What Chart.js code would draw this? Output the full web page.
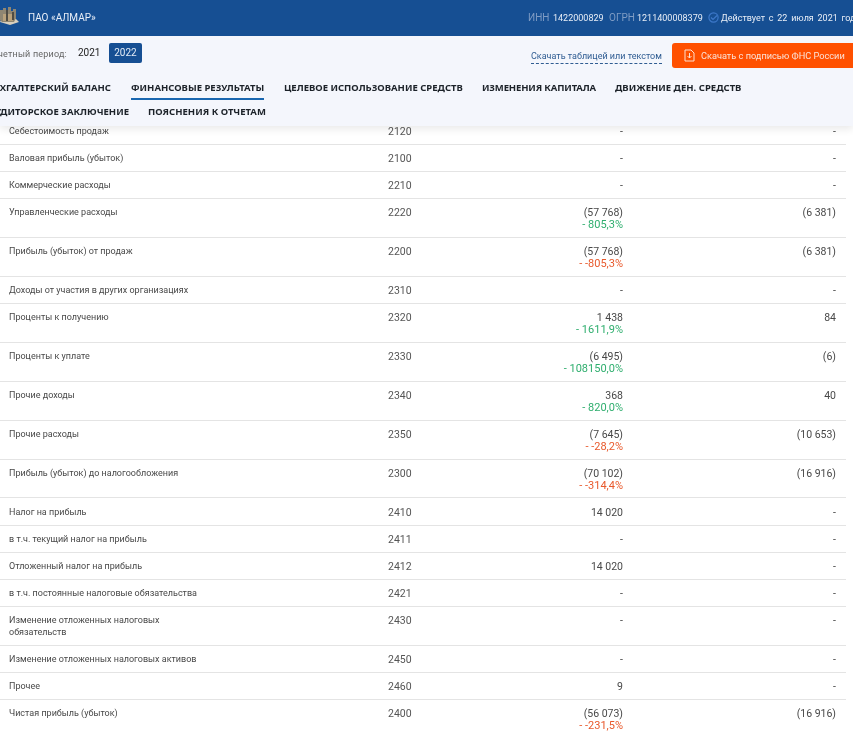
<!DOCTYPE html>
<html lang="ru">
<head>
<meta charset="utf-8">
<title>ПАО «АЛМАР»</title>
<script src="https://cdn.jsdelivr.net/npm/chart.js@4"></script>
<style>
    html, body { margin: 0; padding: 0; width: 853px; height: 734px; overflow: hidden; background: #fff; }
    body { position: relative; font-family: Roboto, sans-serif; }
    #top { position: absolute; left: 0; top: 0; width: 853px; height: 36px; background: #164f93; z-index: 3; }
    #sub { position: absolute; left: 0; top: 36px; width: 853px; height: 90px; background: #f4f6fc; z-index: 2; box-shadow: 0 3px 8px rgba(0,0,0,.09); }
    .t { position: absolute; white-space: nowrap; line-height: 14px; font-size: 10px; }
    #table { position: absolute; left: 0; top: 117px; z-index: 1; }
    .tab { font-family: "Noto Sans", sans-serif; font-weight: 700; font-size: 9.5px; color: #1c2229; }
</style>
</head>
<body>
<div id="top">
    <svg style="position:absolute;left:0;top:7px" width="20" height="19"><path d="M0 15l10 3 9-3-4-4H2z" fill="#d8cfbd"/><path d="M0 3h3V1h3v3h2V0h3v4h2V2h3v9l-2 4H2l-2-2z" fill="#8f8672"/><path d="M3 7h10v7H3z" fill="#b9a27c"/><path d="M6 3h2v11H6zM12 5h2v8h-2z" fill="#4f4c44"/></svg>
    <span class="t" style="left:28px;top:11px;color:#e8eef7">ПАО «АЛМАР»</span>
    <span class="t" style="left:528px;top:11px;color:#7f9cc4">ИНН</span>
    <span class="t" style="left:553px;top:11px;color:#e8eef7;font-size:9px;">1422000829</span>
    <span class="t" style="left:609px;top:11px;color:#7f9cc4">ОГРН</span>
    <span class="t" style="left:637px;top:11px;color:#e8eef7;font-size:9px;">1211400008379</span>
    <svg style="position:absolute;left:708px;top:12px" width="11" height="11"><circle cx="5.5" cy="5.5" r="4.6" fill="none" stroke="#3d78c9" stroke-width="1.2"/><path d="M3 5.5l2 2 4-4" fill="none" stroke="#3d78c9" stroke-width="1.2"/></svg>
    <span class="t" style="left:721px;top:11px;color:#e8eef7;font-size:9px;word-spacing:1.5px">Действует с 22 июля 2021 года</span>
</div>
<div id="sub">
    <span class="t" style="right:786px;top:11px;font-size:9px;color:#666;letter-spacing:.2px">Отчетный период:</span>
    <span class="t" style="left:78px;top:10px;color:#222">2021</span>
    <span class="t" style="left:109px;top:7px;width:33px;height:20px;line-height:20px;text-align:center;color:#e4ecf6;background:#164f93;border-radius:2px">2022</span>
    <span class="t" style="left:531px;top:13px;font-size:9px;color:#2f5c92;border-bottom:1px dashed #2f5c92">Скачать таблицей или текстом</span>
    <span class="t" style="left:672px;top:7px;width:190px;height:25px;background:#ff5000;border-radius:3px"></span>
    <svg style="position:absolute;left:684px;top:13px" width="11" height="13"><path d="M1 1h6l3 3v8H1z" fill="none" stroke="#fde0d0" stroke-width="1"/><path d="M5.5 4v5M3.5 7l2 2 2-2" fill="none" stroke="#fde0d0"/></svg>
    <span class="t" style="left:701px;top:13px;font-size:9.2px;color:#fbe3d8">Скачать с подписью ФНС России</span>
    <span class="t tab" style="right:742px;top:45px">БУХГАЛТЕРСКИЙ БАЛАНС</span>
    <span class="t tab" style="left:131px;top:45px">ФИНАНСОВЫЕ РЕЗУЛЬТАТЫ</span>
    <span style="position:absolute;left:131px;top:62px;width:133px;height:2px;background:#1a67b0"></span>
    <span class="t tab" style="left:284px;top:45px">ЦЕЛЕВОЕ ИСПОЛЬЗОВАНИЕ СРЕДСТВ</span>
    <span class="t tab" style="left:482px;top:45px;letter-spacing:-.15px">ИЗМЕНЕНИЯ КАПИТАЛА</span>
    <span class="t tab" style="left:615px;top:45px">ДВИЖЕНИЕ ДЕН. СРЕДСТВ</span>
    <span class="t tab" style="right:724px;top:69px">АУДИТОРСКОЕ ЗАКЛЮЧЕНИЕ</span>
    <span class="t tab" style="left:148px;top:69px">ПОЯСНЕНИЯ К ОТЧЕТАМ</span>
</div>
<canvas id="table" width="846" height="621"></canvas>
<script>
// Table rows, top to bottom
const rowNames = ['Себестоимость продаж', 'Валовая прибыль (убыток)', 'Коммерческие расходы', 'Управленческие расходы',
    'Прибыль (убыток) от продаж', 'Доходы от участия в других организациях', 'Проценты к получению', 'Проценты к уплате',
    'Прочие доходы', 'Прочие расходы', 'Прибыль (убыток) до налогообложения', 'Налог на прибыль',
    'в т.ч. текущий налог на прибыль', 'Отложенный налог на прибыль', 'в т.ч. постоянные налоговые обязательства',
    'Изменение отложенных налоговых\nобязательств', 'Изменение отложенных налоговых активов', 'Прочее', 'Чистая прибыль (убыток)'];
const rowCodes = ['2120', '2100', '2210', '2220', '2200', '2310', '2320', '2330', '2340', '2350', '2300', '2410', '2411', '2412', '2421', '2430', '2450', '2460', '2400'];
const values2022 = [null, null, null, -57768, -57768, null, 1438, -6495, 368, -7645, -70102, 14020, null, 14020, null, null, null, 9, -56073];
const changes2022 = [null, null, null, 805.3, -805.3, null, 1611.9, 108150.0, 820.0, -28.2, -314.4, null, null, null, null, null, null, null, -231.5];
const values2021 = [null, null, null, -6381, -6381, null, 84, -6, 40, -10653, -16916, null, null, null, null, null, null, null, -16916];

const TEXT_COLOR = '#484848';
const CODE_COLOR = '#555555';
const UP_COLOR = '#2fae6e';
const DOWN_COLOR = '#e8592c';
const GRID_COLOR = '#e4e4e4';
const NAME_FONT = '9px Roboto';
const VALUE_FONT = '10.5px Roboto';
const CHANGE_FONT = '11px Roboto';
const LINE_HEIGHT = 12;
const FIRST_LINE = 15;

// x of each column on the table's own scale
const columnX = { name: 9, code: 388, current: 623, previous: 836 };

function formatValue(v) {
    if (v === null) return '-';
    const s = Math.abs(v).toString().replace(/\B(?=(\d{3})+$)/g, ' ');
    return v < 0 ? '(' + s + ')' : s;
}

function formatChange(v) {
    return v === null ? '' : '- ' + v.toFixed(1).replace('.', ',') + '%';
}

// Row height follows the number of text lines in it
const rowLines = rowNames.map((name, i) => Math.max(name.split('\n').length, changes2022[i] === null ? 1 : 2));
const rowEdges = [0];
rowLines.forEach(n => rowEdges.push(rowEdges[rowEdges.length - 1] + 15 + LINE_HEIGHT * n));
const firstLineY = rowEdges.slice(0, -1).map(y => y + FIRST_LINE);

function column(x, labels, font, color, align, lineOffset) {
    return {
        data: firstLineY.map(y => ({ x: x, y: y + (lineOffset || 0) })),
        labels: labels, font: font, color: color, align: align,
        pointRadius: 0, showLine: false
    };
}

// Writes each dataset's labels at its points
const cellText = {
    id: 'cellText',
    afterDatasetsDraw(chart) {
        const ctx = chart.ctx;
        ctx.save();
        ctx.textBaseline = 'middle';
        chart.data.datasets.forEach((ds, d) => {
            ctx.font = ds.font;
            ctx.textAlign = ds.align;
            chart.getDatasetMeta(d).data.forEach((pt, i) => {
                ctx.fillStyle = typeof ds.color === 'function' ? ds.color(i) : ds.color;
                String(ds.labels[i]).split('\n').forEach((line, n) => {
                    ctx.fillText(line, pt.x, pt.y + n * LINE_HEIGHT);
                });
            });
        });
        ctx.restore();
    }
};

new Chart(document.getElementById('table').getContext('2d'), {
    type: 'scatter',
    data: {
        datasets: [
            column(columnX.name, rowNames, NAME_FONT, TEXT_COLOR, 'left'),
            column(columnX.code, rowCodes, VALUE_FONT, CODE_COLOR, 'left'),
            column(columnX.current, values2022.map(formatValue), VALUE_FONT, TEXT_COLOR, 'right'),
            column(columnX.current, changes2022.map(formatChange), CHANGE_FONT, i => changes2022[i] < 0 ? DOWN_COLOR : UP_COLOR, 'right', LINE_HEIGHT),
            column(columnX.previous, values2021.map(formatValue), VALUE_FONT, TEXT_COLOR, 'right')
        ]
    },
    options: {
        responsive: false,
        animation: false,
        devicePixelRatio: 1,
        layout: { padding: 0 },
        plugins: { legend: { display: false }, tooltip: { enabled: false }, title: { display: false } },
        events: [],
        scales: {
            x: { type: 'linear', min: 0, max: 846, display: false },
            y: {
                type: 'linear',
                reverse: true,
                min: 0,
                max: rowEdges[rowEdges.length - 1],
                afterBuildTicks: scale => { scale.ticks = rowEdges.map(v => ({ value: v })); },
                ticks: { display: false },
                border: { display: false },
                grid: { color: GRID_COLOR, drawTicks: false }
            }
        }
    },
    plugins: [cellText]
});
</script>
</body>
</html>
